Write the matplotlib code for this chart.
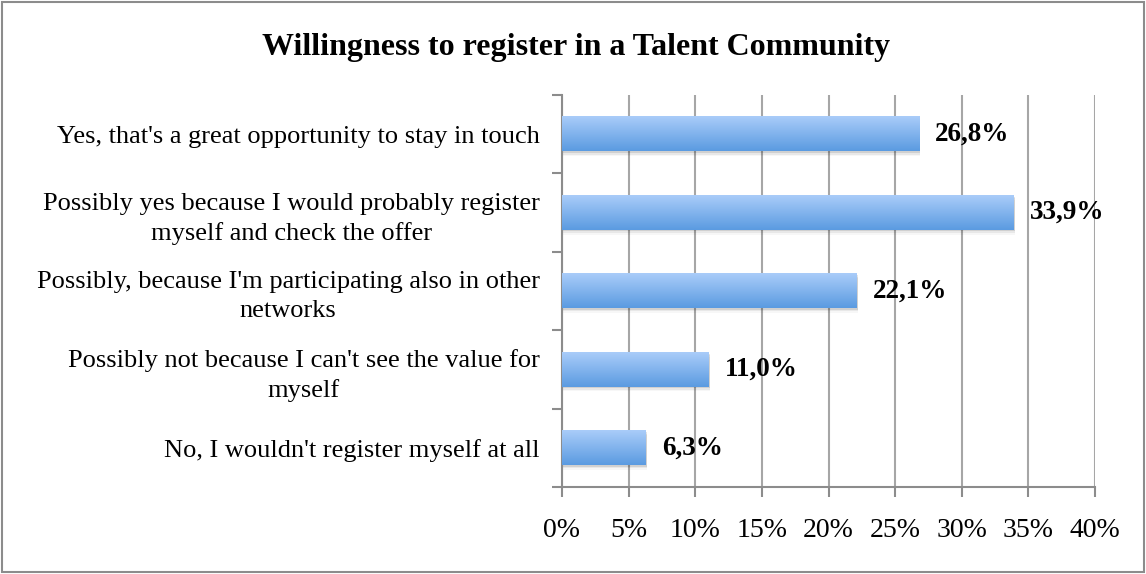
import numpy as np
import matplotlib.pyplot as plt
from matplotlib.patches import Rectangle
from matplotlib.colors import LinearSegmentedColormap

plt.rcParams['font.family'] = ['Liberation Serif', 'DejaVu Serif']

title = "Willingness to register in a Talent Community"
categories = [
    "Yes, that's a great opportunity to stay in touch",
    "Possibly yes because I would probably register\nmyself and check the offer",
    "Possibly, because I'm participating also in other\nnetworks",
    "Possibly not because I can't see the value for\nmyself",
    "No, I wouldn't register myself at all",
]
values = [26.8, 33.9, 22.1, 11.0, 6.3]
labels = ["26,8%", "33,9%", "22,1%", "11,0%", "6,3%"]
xticks = [0, 5, 10, 15, 20, 25, 30, 35, 40]

fig = plt.figure(figsize=(11.46, 5.74), dpi=100)
# chart border
fig.patches.append(Rectangle((0.002, 0.004), 0.996, 0.992, transform=fig.transFigure,
                             fill=False, edgecolor='#8c8c8c', linewidth=1.5))
ax = fig.add_axes([0.4904, 0.1516, 0.4651, 0.6829])

grad = LinearSegmentedColormap.from_list('bar', ['#5b9be1', '#a9ccf9'])
g = np.linspace(0, 1, 64).reshape(-1, 1)
n = len(categories)
h = 0.44
for i, v in enumerate(values):
    y = n - 1 - i
    # soft shadow below the bar
    for k, a in enumerate([0.10, 0.06, 0.03]):
        off = 0.02 + k * 0.02
        ax.add_patch(Rectangle((0.1, y - h / 2 - off), v, h, facecolor='#000000',
                               alpha=a, edgecolor='none', zorder=2))
    ax.imshow(g, cmap=grad, aspect='auto', origin='lower',
              extent=(0, v, y - h / 2, y + h / 2), zorder=3)
    ax.text(v + 1.2, y, labels[i], va='center', ha='left', fontsize=19.5,
            fontweight='bold', zorder=4)

ax.set_xlim(0, 40)
ax.set_ylim(-0.5, n - 0.5)
ax.set_xticks(xticks)
ax.set_xticklabels([f"{t}%" for t in xticks], fontsize=20)
ax.set_yticks(range(n))
ax.set_yticklabels(categories[::-1], fontsize=19, multialignment='center',
                   linespacing=1.4)
ax.set_yticks(np.arange(-0.5, n, 1.0), minor=True)
ax.tick_params(axis='y', which='major', length=0, pad=16)
ax.tick_params(axis='y', which='minor', length=7, color='#8c8c8c', width=1.5)
ax.tick_params(axis='x', length=7, color='#8c8c8c', width=1.5, pad=15)
ax.grid(axis='x', color='#a6a6a6', linewidth=1.5, zorder=0)
ax.set_axisbelow(True)
for s in ['top', 'right']:
    ax.spines[s].set_visible(False)
for s in ['left', 'bottom']:
    ax.spines[s].set_color('#8c8c8c')
    ax.spines[s].set_linewidth(1.5)

fig.text(0.503, 0.918, title, ha='center', va='center', fontsize=23, fontweight='bold')

fig.savefig('out.png', dpi=100)
